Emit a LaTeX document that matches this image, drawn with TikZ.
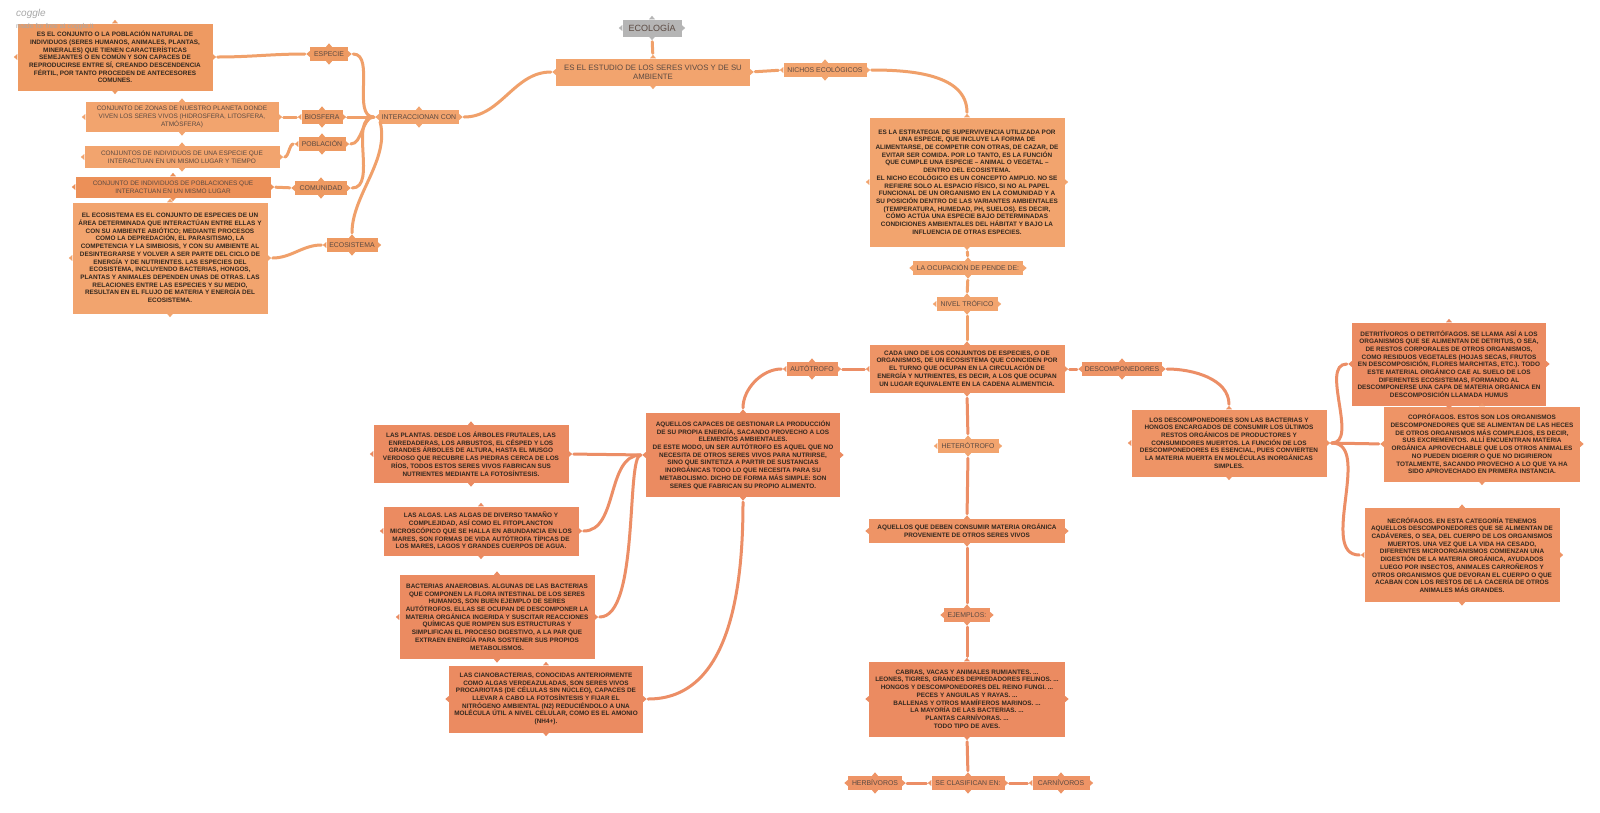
\documentclass[tikz,border=0pt]{standalone}
\usepackage{fontspec}
\setmainfont{Liberation Sans}
\usetikzlibrary{calc}
\definecolor{cL}{HTML}{F2A46E}
\definecolor{cM}{HTML}{EE9A62}
\definecolor{cD}{HTML}{EC9058}
\definecolor{cS}{HTML}{EE9466}
\definecolor{cR}{HTML}{EB8B61}
\definecolor{cG}{HTML}{B5B5B5}
\definecolor{eT}{HTML}{F0A06A}
\definecolor{eL}{HTML}{EC8E66}
\definecolor{txt}{HTML}{33281F}
\definecolor{lbl}{HTML}{5B4A42}
\definecolor{wmk}{HTML}{A8A8A8}
\newcommand\mknubs[2]{%
  \fill[#2] ([xshift=-3pt]#1.north) -- ([yshift=3.5pt]#1.north) -- ([xshift=3pt]#1.north) -- cycle;
  \fill[#2] ([xshift=-3pt]#1.south) -- ([yshift=-3.5pt]#1.south) -- ([xshift=3pt]#1.south) -- cycle;
  \fill[#2] ([yshift=-3pt]#1.east) -- ([xshift=3.5pt]#1.east) -- ([yshift=3pt]#1.east) -- cycle;
  \fill[#2] ([yshift=-3pt]#1.west) -- ([xshift=-3.5pt]#1.west) -- ([yshift=3pt]#1.west) -- cycle;
}
\tikzset{
  box/.style={rectangle, inner sep=1pt, align=center, text=txt, font=\fontsize{6.4}{7.7}\selectfont\bfseries},
  rbox/.style={rectangle, inner sep=1pt, align=center, text=lbl, font=\fontsize{6.45}{7.7}\selectfont},
  lab/.style={rectangle, inner sep=1pt, align=center, text=lbl, minimum height=14pt, font=\fontsize{6.9}{8}\selectfont},
  edge/.style={line width=3pt, line cap=round, shorten >=5pt, shorten <=5pt},
}
\begin{document}
\begin{tikzpicture}[x=1pt,y=-1pt]
\fill[white] (0,0) rectangle (1600,812);
\useasboundingbox (0,0) rectangle (1600,812);

% ---------- top centre ----------
\node[rectangle, fill=cG, text=lbl, minimum width=59pt, minimum height=17pt, font=\fontsize{9}{10}\selectfont] (ecol) at (652,28) {ECOLOGÍA};
\node[rbox, fill=cL, minimum width=194pt, minimum height=27pt, font=\fontsize{7.8}{9.2}\selectfont] (estudio) at (653,72) {ES EL ESTUDIO DE LOS SERES VIVOS Y DE SU\\AMBIENTE};
\node[lab, fill=cL, minimum width=83pt] (nichos) at (825,70) {NICHOS ECOLÓGICOS};
\node[box, fill=cL, minimum width=195pt, minimum height=129pt] (nicho) at (967,182) {ES LA ESTRATEGIA DE SUPERVIVENCIA UTILIZADA POR\\UNA ESPECIE, QUE INCLUYE LA FORMA DE\\ALIMENTARSE, DE COMPETIR CON OTRAS, DE CAZAR, DE\\EVITAR SER COMIDA. POR LO TANTO, ES LA FUNCIÓN\\QUE CUMPLE UNA ESPECIE – ANIMAL O VEGETAL –\\DENTRO DEL ECOSISTEMA.\\EL NICHO ECOLÓGICO ES UN CONCEPTO AMPLIO. NO SE\\REFIERE SOLO AL ESPACIO FÍSICO, SI NO AL PAPEL\\FUNCIONAL DE UN ORGANISMO EN LA COMUNIDAD Y A\\SU POSICIÓN DENTRO DE LAS VARIANTES AMBIENTALES\\(TEMPERATURA, HUMEDAD, PH, SUELOS). ES DECIR,\\CÓMO ACTÚA UNA ESPECIE BAJO DETERMINADAS\\CONDICIONES AMBIENTALES DEL HÁBITAT Y BAJO LA\\INFLUENCIA DE OTRAS ESPECIES.};
\node[lab, fill=cL, minimum width=110pt] (ocup) at (968,268) {LA OCUPACIÓN DE PENDE DE:};
\node[lab, fill=cL, minimum width=61pt] (nivel) at (967,304) {NIVEL TRÓFICO};
\node[box, fill=cS, minimum width=195pt, minimum height=48pt] (cada) at (967,369) {CADA UNO DE LOS CONJUNTOS DE ESPECIES, O DE\\ORGANISMOS, DE UN ECOSISTEMA QUE COINCIDEN POR\\EL TURNO QUE OCUPAN EN LA CIRCULACIÓN DE\\ENERGÍA Y NUTRIENTES, ES DECIR, A LOS QUE OCUPAN\\UN LUGAR EQUIVALENTE EN LA CADENA ALIMENTICIA.};
\node[lab, fill=cS, minimum width=51pt] (auto) at (812,369) {AUTÓTROFO};
\node[lab, fill=cS, minimum width=80pt] (desc) at (1122,369) {DESCOMPONEDORES};
\node[lab, fill=cL, minimum width=61pt] (hetero) at (968,446) {HETERÓTROFO};
\node[box, fill=cS, minimum width=196pt, minimum height=24pt] (aquel) at (967,531) {AQUELLOS QUE DEBEN CONSUMIR MATERIA ORGÁNICA\\PROVENIENTE DE OTROS SERES VIVOS};
\node[lab, fill=cS, minimum width=46pt] (ejem) at (967,615) {EJEMPLOS:};
\node[box, fill=cR, minimum width=196pt, minimum height=75pt] (cabras) at (967,699) {CABRAS, VACAS Y ANIMALES RUMIANTES. ...\\LEONES, TIGRES, GRANDES DEPREDADORES FELINOS. ...\\HONGOS Y DESCOMPONEDORES DEL REINO FUNGI. ...\\PECES Y ANGUILAS Y RAYAS. ...\\BALLENAS Y OTROS MAMÍFEROS MARINOS. ...\\LA MAYORÍA DE LAS BACTERIAS. ...\\PLANTAS CARNÍVORAS. ...\\TODO TIPO DE AVES.};
\node[lab, fill=cS, minimum width=54pt] (herb) at (875,783) {HERBÍVOROS};
\node[lab, fill=cS, minimum width=73pt] (seclas) at (968,783) {SE CLASIFICAN EN:};
\node[lab, fill=cS, minimum width=57pt] (carn) at (1061,783) {CARNÍVOROS};

% ---------- autotrofos ----------
\node[box, fill=cR, minimum width=194pt, minimum height=84pt] (autobox) at (743,455) {AQUELLOS CAPACES DE GESTIONAR LA PRODUCCIÓN\\DE SU PROPIA ENERGÍA, SACANDO PROVECHO A LOS\\ELEMENTOS AMBIENTALES.\\DE ESTE MODO, UN SER AUTÓTROFO ES AQUEL QUE NO\\NECESITA DE OTROS SERES VIVOS PARA NUTRIRSE,\\SINO QUE SINTETIZA A PARTIR DE SUSTANCIAS\\INORGÁNICAS TODO LO QUE NECESITA PARA SU\\METABOLISMO. DICHO DE FORMA MÁS SIMPLE: SON\\SERES QUE FABRICAN SU PROPIO ALIMENTO.};
\node[box, fill=cR, minimum width=195pt, minimum height=58pt] (plantas) at (471,454) {LAS PLANTAS. DESDE LOS ÁRBOLES FRUTALES, LAS\\ENREDADERAS, LOS ARBUSTOS, EL CÉSPED Y LOS\\GRANDES ÁRBOLES DE ALTURA, HASTA EL MUSGO\\VERDOSO QUE RECUBRE LAS PIEDRAS CERCA DE LOS\\RÍOS, TODOS ESTOS SERES VIVOS FABRICAN SUS\\NUTRIENTES MEDIANTE LA FOTOSÍNTESIS.};
\node[box, fill=cR, minimum width=195pt, minimum height=49pt] (algas) at (481,531) {LAS ALGAS. LAS ALGAS DE DIVERSO TAMAÑO Y\\COMPLEJIDAD, ASÍ COMO EL FITOPLANCTON\\MICROSCÓPICO QUE SE HALLA EN ABUNDANCIA EN LOS\\MARES, SON FORMAS DE VIDA AUTÓTROFA TÍPICAS DE\\LOS MARES, LAGOS Y GRANDES CUERPOS DE AGUA.};
\node[box, fill=cR, minimum width=195pt, minimum height=84pt] (bact) at (497,617) {BACTERIAS ANAEROBIAS. ALGUNAS DE LAS BACTERIAS\\QUE COMPONEN LA FLORA INTESTINAL DE LOS SERES\\HUMANOS, SON BUEN EJEMPLO DE SERES\\AUTÓTROFOS. ELLAS SE OCUPAN DE DESCOMPONER LA\\MATERIA ORGÁNICA INGERIDA Y SUSCITAR REACCIONES\\QUÍMICAS QUE ROMPEN SUS ESTRUCTURAS Y\\SIMPLIFICAN EL PROCESO DIGESTIVO, A LA PAR QUE\\EXTRAEN ENERGÍA PARA SOSTENER SUS PROPIOS\\METABOLISMOS.};
\node[box, fill=cR, minimum width=194pt, minimum height=67pt] (ciano) at (546,699) {LAS CIANOBACTERIAS, CONOCIDAS ANTERIORMENTE\\COMO ALGAS VERDEAZULADAS, SON SERES VIVOS\\PROCARIOTAS (DE CÉLULAS SIN NÚCLEO), CAPACES DE\\LLEVAR A CABO LA FOTOSÍNTESIS Y FIJAR EL\\NITRÓGENO AMBIENTAL (N2) REDUCIÉNDOLO A UNA\\MOLÉCULA ÚTIL A NIVEL CELULAR, COMO ES EL AMONIO\\(NH4+).};

% ---------- descomponedores ----------
\node[box, fill=cS, minimum width=195pt, minimum height=67pt] (losdesc) at (1229,443) {LOS DESCOMPONEDORES SON LAS BACTERIAS Y\\HONGOS ENCARGADOS DE CONSUMIR LOS ÚLTIMOS\\RESTOS ORGÁNICOS DE PRODUCTORES Y\\CONSUMIDORES MUERTOS. LA FUNCIÓN DE LOS\\DESCOMPONEDORES ES ESENCIAL, PUES CONVIERTEN\\LA MATERIA MUERTA EN MOLÉCULAS INORGÁNICAS\\SIMPLES.};
\node[box, fill=cR, minimum width=194pt, minimum height=83pt] (detrit) at (1449,364) {DETRITÍVOROS O DETRITÓFAGOS. SE LLAMA ASÍ A LOS\\ORGANISMOS QUE SE ALIMENTAN DE DETRITUS, O SEA,\\DE RESTOS CORPORALES DE OTROS ORGANISMOS,\\COMO RESIDUOS VEGETALES (HOJAS SECAS, FRUTOS\\EN DESCOMPOSICIÓN, FLORES MARCHITAS, ETC.). TODO\\ESTE MATERIAL ORGÁNICO CAE AL SUELO DE LOS\\DIFERENTES ECOSISTEMAS, FORMANDO AL\\DESCOMPONERSE UNA CAPA DE MATERIA ORGÁNICA EN\\DESCOMPOSICIÓN LLAMADA HUMUS};
\node[box, fill=cS, minimum width=196pt, minimum height=75pt] (copro) at (1482,444) {COPRÓFAGOS. ESTOS SON LOS ORGANISMOS\\DESCOMPONEDORES QUE SE ALIMENTAN DE LAS HECES\\DE OTROS ORGANISMOS MÁS COMPLEJOS, ES DECIR,\\SUS EXCREMENTOS. ALLÍ ENCUENTRAN MATERIA\\ORGÁNICA APROVECHABLE QUE LOS OTROS ANIMALES\\NO PUEDEN DIGERIR O QUE NO DIGIRIERON\\TOTALMENTE, SACANDO PROVECHO A LO QUE YA HA\\SIDO APROVECHADO EN PRIMERA INSTANCIA.};
\node[box, fill=cS, minimum width=195pt, minimum height=94pt] (necro) at (1462,555) {NECRÓFAGOS. EN ESTA CATEGORÍA TENEMOS\\AQUELLOS DESCOMPONEDORES QUE SE ALIMENTAN DE\\CADÁVERES, O SEA, DEL CUERPO DE LOS ORGANISMOS\\MUERTOS. UNA VEZ QUE LA VIDA HA CESADO,\\DIFERENTES MICROORGANISMOS COMIENZAN UNA\\DIGESTIÓN DE LA MATERIA ORGÁNICA, AYUDADOS\\LUEGO POR INSECTOS, ANIMALES CARROÑEROS Y\\OTROS ORGANISMOS QUE DEVORAN EL CUERPO O QUE\\ACABAN CON LOS RESTOS DE LA CACERÍA DE OTROS\\ANIMALES MÁS GRANDES.};

% ---------- top left ----------
\node[lab, fill=cL, minimum width=80pt] (inter) at (419,117) {INTERACCIONAN CON};
\node[lab, fill=cM, minimum width=38pt] (esp) at (329,54) {ESPECIE};
\node[lab, fill=cM, minimum width=41pt] (bios) at (322,117) {BIOSFERA};
\node[lab, fill=cM, minimum width=47pt] (pobl) at (322,144) {POBLACIÓN};
\node[lab, fill=cM, minimum width=52pt] (comu) at (321,188) {COMUNIDAD};
\node[lab, fill=cM, minimum width=51pt] (ecos) at (352,245) {ECOSISTEMA};
\node[box, fill=cM, minimum width=195pt, minimum height=67pt] (conj) at (115,57) {ES EL CONJUNTO O LA POBLACIÓN NATURAL DE\\INDIVIDUOS (SERES HUMANOS, ANIMALES, PLANTAS,\\MINERALES) QUE TIENEN CARACTERÍSTICAS\\SEMEJANTES O EN COMÚN Y SON CAPACES DE\\REPRODUCIRSE ENTRE SÍ, CREANDO DESCENDENCIA\\FÉRTIL, POR TANTO PROCEDEN DE ANTECESORES\\COMUNES.};
\node[rbox, fill=cL, minimum width=193pt, minimum height=30pt] (biot) at (182,117) {CONJUNTO DE ZONAS DE NUESTRO PLANETA DONDE\\VIVEN LOS SERES VIVOS (HIDROSFERA, LITOSFERA,\\ATMÓSFERA)};
\node[rbox, fill=cL, minimum width=195pt, minimum height=22pt] (poblt) at (182,157) {CONJUNTOS DE INDIVIDUOS DE UNA ESPECIE QUE\\INTERACTUAN EN UN MISMO LUGAR Y TIEMPO};
\node[rbox, fill=cD, minimum width=195pt, minimum height=21pt] (comut) at (173,187) {CONJUNTO DE INDIVIDUOS DE POBLACIONES QUE\\INTERACTUAN EN UN MISMO LUGAR};
\node[box, fill=cL, minimum width=195pt, minimum height=111pt] (ecot) at (170,258) {EL ECOSISTEMA ES EL CONJUNTO DE ESPECIES DE UN\\ÁREA DETERMINADA QUE INTERACTÚAN ENTRE ELLAS Y\\CON SU AMBIENTE ABIÓTICO; MEDIANTE PROCESOS\\COMO LA DEPREDACIÓN, EL PARASITISMO, LA\\COMPETENCIA Y LA SIMBIOSIS, Y CON SU AMBIENTE AL\\DESINTEGRARSE Y VOLVER A SER PARTE DEL CICLO DE\\ENERGÍA Y DE NUTRIENTES. LAS ESPECIES DEL\\ECOSISTEMA, INCLUYENDO BACTERIAS, HONGOS,\\PLANTAS Y ANIMALES DEPENDEN UNAS DE OTRAS. LAS\\RELACIONES ENTRE LAS ESPECIES Y SU MEDIO,\\RESULTAN EN EL FLUJO DE MATERIA Y ENERGÍA DEL\\ECOSISTEMA.};

% ---------- nubs ----------
\mknubs{ecol}{cG}
\foreach \n in {estudio,nichos,nicho,ocup,nivel,hetero,inter,biot,poblt,ecot} {\mknubs{\n}{cL}}
\foreach \n in {esp,bios,pobl,comu,ecos,conj} {\mknubs{\n}{cM}}
\mknubs{comut}{cD}
\foreach \n in {cada,auto,desc,aquel,ejem,herb,seclas,carn,losdesc,copro,necro} {\mknubs{\n}{cS}}
\foreach \n in {cabras,autobox,plantas,algas,bact,ciano,detrit} {\mknubs{\n}{cR}}

% ---------- connectors ----------
\draw[edge,eT] (ecol.south) -- (estudio.north);
\draw[edge,eT] (estudio.west) to[out=180,in=0] (inter.east);
\draw[edge,eT] (estudio.east) -- (nichos.west);
\draw[edge,eT] (nichos.east) to[out=0,in=90] (nicho.north);
\draw[edge,eT] (nicho.south) -- (ocup.north);
\draw[edge,eT] (ocup.south) -- (nivel.north);
\draw[edge,eT] (nivel.south) -- (cada.north);

\draw[edge,eL] (cada.west) -- (auto.east);
\draw[edge,eL] (auto.west) to[out=180,in=90] (autobox.north);
\draw[edge,eL] (cada.east) -- (desc.west);
\draw[edge,eL] (desc.east) to[out=0,in=90] (losdesc.north);
\draw[edge,eL] (cada.south) -- (hetero.north);
\draw[edge,eL] (hetero.south) -- (aquel.north);
\draw[edge,eL] (aquel.south) -- (ejem.north);
\draw[edge,eL] (ejem.south) -- (cabras.north);
\draw[edge,eL] (cabras.south) -- (seclas.north);
\draw[edge,eL] (seclas.west) -- (herb.east);
\draw[edge,eL] (seclas.east) -- (carn.west);

\draw[edge,eL] (losdesc.east) to[out=0,in=180] (detrit.west);
\draw[edge,eL] (losdesc.east) -- (copro.west);
\draw[edge,eL] (losdesc.east) to[out=0,in=180] (necro.west);

\draw[edge,eL] (autobox.west) -- (plantas.east);
\draw[edge,eL] (autobox.west) to[out=180,in=0] (algas.east);
\draw[edge,eL] (autobox.west) .. controls +(-20,0) and +(45,0) .. (bact.east);
\draw[edge,eL] (autobox.south) to[out=-90,in=0] (ciano.east);

\draw[edge,eT] (inter.west) -- (bios.east);
\draw[edge,eT] (inter.west) to[out=180,in=0] (esp.east);
\draw[edge,eT] (inter.west) to[out=180,in=0] (pobl.east);
\draw[edge,eT] (inter.west) to[out=180,in=0] (comu.east);
\draw[edge,eT] (inter.west) .. controls (390,160) and (352,195) .. (ecos.north);

\draw[edge,eT] (conj.east) to[out=0,in=180] (esp.west);
\draw[edge,eT] (biot.east) -- (bios.west);
\draw[edge,eT] (poblt.east) to[out=0,in=180] (pobl.west);
\draw[edge,eT] (comut.east) -- (comu.west);
\draw[edge,eT] (ecot.east) to[out=0,in=180] (ecos.west);

% ---------- watermark ----------
\node[anchor=west, text=wmk, font=\fontsize{10}{11}\selectfont\itshape, inner sep=0pt] (wm1) at (16,14) {coggle};
\node[anchor=west, text=wmk, font=\fontsize{7}{8}\selectfont, inner sep=0pt] (wm2) at (16,27) {made for free at coggle.it};
\end{tikzpicture}
\end{document}
